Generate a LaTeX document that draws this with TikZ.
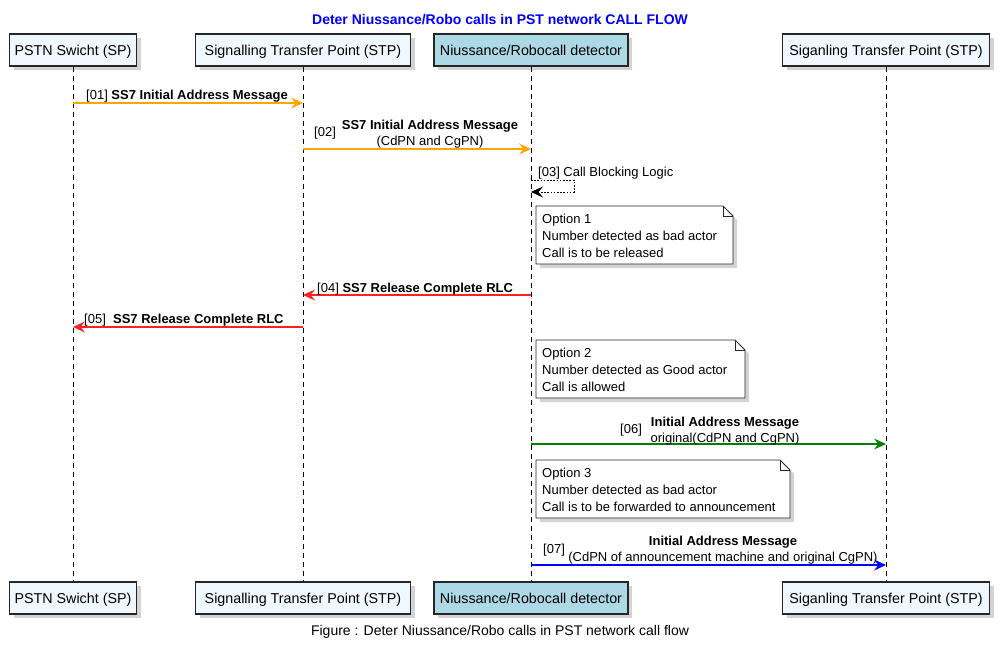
\documentclass[tikz,border=0pt]{standalone}
\usepackage{fontspec}
\setmainfont{Liberation Sans}
\usetikzlibrary{arrows.meta,shadows}
\definecolor{pfill}{HTML}{F0F8FF}
\definecolor{dfill}{HTML}{ADD8E6}
\definecolor{morange}{HTML}{FFA500}
\definecolor{mred}{HTML}{FF2020}
\definecolor{mgreen}{HTML}{008000}
\definecolor{mblue}{HTML}{0000FF}
\tikzset{
  part/.style={draw=black!85, line width=1.5pt, fill=pfill, minimum height=32pt, inner sep=0pt,
    font=\fontsize{14.3}{16}\selectfont, text height=14pt, text depth=3pt,
    drop shadow={shadow xshift=4pt,shadow yshift=-4pt,opacity=0.35}},
  life/.style={line width=0.8pt, dash pattern=on 5pt off 4pt},
  msg/.style={line width=1.1pt, -{Stealth[length=12pt,width=11pt,inset=4.5pt]}},
  lbl/.style={font=\fontsize{13}{16}\selectfont, inner sep=0pt, text height=9.5pt, text depth=2.5pt},
  blk/.style={font=\fontsize{13}{16}\selectfont, inner sep=0pt, align=center},
  notebox/.style={draw=black!85, line width=0.9pt, fill=white,
    drop shadow={shadow xshift=4pt,shadow yshift=-4pt,opacity=0.35}},
  notefold/.style={draw=black!85, line width=0.9pt},
  notetext/.style={font=\fontsize{13}{16.8}\selectfont, align=left, inner sep=0pt, anchor=north west},
}
\newcommand{\mynote}[4]{%
  \path[notebox] (#1,#2) -- ({#3-10},#2) -- (#3,{#2+10}) -- (#3,#4) -- (#1,#4) -- cycle;
  \draw[notefold] ({#3-10},#2) -- ({#3-10},{#2+10}) -- (#3,{#2+10});
}
\begin{document}
\begin{tikzpicture}[x=1pt,y=-1pt]
\useasboundingbox (0,0) rectangle (1000,647);

\node (title) at (500,20) {\fontsize{14}{16}\selectfont\bfseries\color{mblue}Deter Niussance/Robo calls in PST network CALL FLOW};

% participants top
\node[part, minimum width=127pt] (p1) at (73,50) {PSTN Swicht (SP)};
\node[part, minimum width=215pt] (p2) at (303,50) {Signalling Transfer Point (STP)};
\node[part, minimum width=194pt, fill=dfill] (p3) at (531,50) {Niussance/Robocall detector};
\node[part, minimum width=207pt] (p4) at (886,50) {Siganling Transfer Point (STP)};
% participants bottom
\node[part, minimum width=127pt] (q1) at (73,598) {PSTN Swicht (SP)};
\node[part, minimum width=215pt] (q2) at (303,598) {Signalling Transfer Point (STP)};
\node[part, minimum width=194pt, fill=dfill] (q3) at (531,598) {Niussance/Robocall detector};
\node[part, minimum width=207pt] (q4) at (886,598) {Siganling Transfer Point (STP)};

% lifelines
\draw[life] (p1.south) -- (q1.north);
\draw[life] (p2.south) -- (q2.north);
\draw[life] (p3.south) -- (q3.north);
\draw[life] (p4.south) -- (q4.north);

% message coordinates
\coordinate (a1) at (73,103);  \coordinate (b1) at (303,103);
\coordinate (a2) at (303,149); \coordinate (b2) at (531,149);
\coordinate (a3) at (531,180); \coordinate (c3) at (574,180); \coordinate (d3) at (574,192); \coordinate (b3) at (531,192);
\coordinate (a4) at (531,295); \coordinate (b4) at (303,295);
\coordinate (a5) at (303,327); \coordinate (b5) at (73,327);
\coordinate (a6) at (531,444); \coordinate (b6) at (886,444);
\coordinate (a7) at (531,565); \coordinate (b7) at (886,565);

% 01
\draw[msg, morange] (a1) -- (b1);
\node[lbl, anchor=west] (l1) at (86,96) {[01] \textbf{SS7 Initial Address Message}};
% 02
\draw[msg, morange] (a2) -- (b2);
\node[lbl, anchor=west] (l2n) at (314,133) {[02]};
\node[blk] (l2) at (430,134) {\textbf{SS7 Initial Address Message}\\(CdPN and CgPN)};
% 03
\draw[msg, black, line width=0.9pt, dash pattern=on 1.6pt off 1.6pt] (a3) -- (c3) -- (d3) -- (b3);
\node[lbl, anchor=west] (l3) at (538,173) {[03] Call Blocking Logic};
% note 1
\mynote{536}{206}{733}{264}
\node[notetext] (n1) at (542,214) {Option 1\\Number detected as bad actor\\Call is to be released};
% 04
\draw[msg, mred] (a4) -- (b4);
\node[lbl, anchor=west] (l4) at (317,289) {[04] \textbf{SS7 Release Complete RLC}};
% 05
\draw[msg, mred] (a5) -- (b5);
\node[lbl, anchor=west] (l5) at (84,320) {[05]~ \textbf{SS7 Release Complete RLC}};
% note 2
\mynote{536}{340}{745}{398}
\node[notetext] (n2) at (542,348) {Option 2\\Number detected as Good actor\\Call is allowed};
% 06
\draw[msg, mgreen] (a6) -- (b6);
\node[lbl, anchor=west] (l6n) at (620,430) {[06]};
\node[blk] (l6) at (725,431) {\textbf{Initial Address Message}\\original(CdPN and CgPN)};
% note 3
\mynote{536}{460}{790}{518}
\node[notetext] (n3) at (542,468) {Option 3\\Number detected as bad actor\\Call is to be forwarded to announcement};
% 07
\draw[msg, mblue] (a7) -- (b7);
\node[lbl, anchor=west] (l7n) at (543,550) {[07]};
\node[blk] (l7) at (723,550) {\textbf{Initial Address Message}\\(CdPN of announcement machine and original CgPN)};

\node (cap) at (500,632) {\fontsize{14}{16}\selectfont Figure : Deter Niussance/Robo calls in PST network call flow};
\end{tikzpicture}
\end{document}
